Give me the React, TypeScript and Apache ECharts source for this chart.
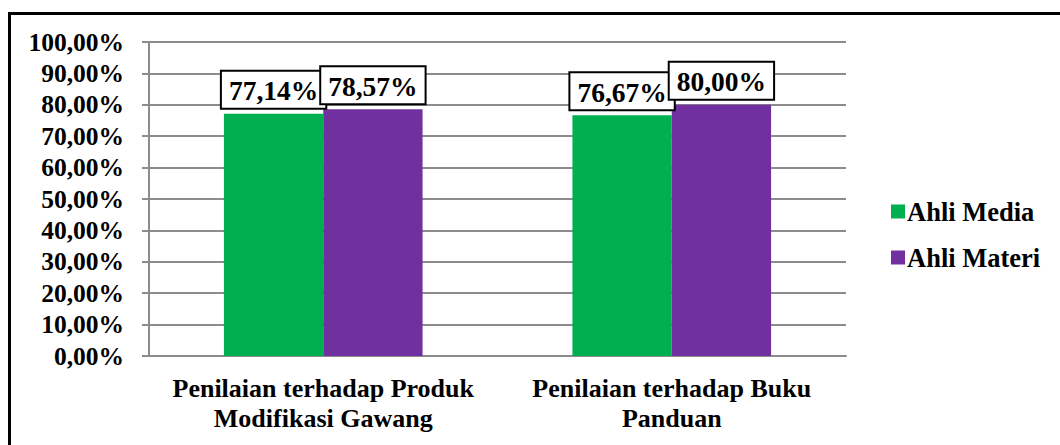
import React, { useEffect, useRef } from "react";
import * as echarts from "echarts";

const categories = ["Penilaian terhadap Produk\nModifikasi Gawang", "Penilaian terhadap Buku\nPanduan"];
const seriesNames = ["Ahli Media", "Ahli Materi"];
const ahliMedia = [77.14, 76.67];
const ahliMateri = [78.57, 80.0];
const colors = ["#00B050", "#7030A0"];

const FONT = "Liberation Serif";
const fmt = (v: number) => v.toFixed(2).replace(".", ",") + "%";

export default function App() {
  const ref = useRef<HTMLDivElement>(null);
  useEffect(() => {
    if (!ref.current) return;
    const chart = echarts.init(ref.current, null, { renderer: "svg" });
    const label = {
      show: true,
      position: "top" as const,
      distance: 6,
      formatter: (p: any) => fmt(p.value),
      fontFamily: FONT,
      fontWeight: "bold" as const,
      fontSize: 27.5,
      color: "#000",
      backgroundColor: "#fff",
      borderColor: "#000",
      borderWidth: 2,
      padding: [5, 7, 3, 7],
    };
    chart.setOption({
      animation: false,
      backgroundColor: "#fff",
      graphic: [
        {
          type: "rect",
          shape: { x: 9.5, y: 13.5, width: 1100, height: 500 },
          style: { fill: "none", stroke: "#000", lineWidth: 3 },
          silent: true,
        },
      ],
      grid: { left: 149, right: 214, top: 42, bottom: 89, containLabel: false },
      legend: {
        orient: "vertical",
        left: 886,
        top: 193,
        itemWidth: 14,
        itemHeight: 14,
        itemGap: 19,
        icon: "rect",
        textStyle: { fontFamily: FONT, fontWeight: "bold", fontSize: 26.5, color: "#000", padding: [0, 0, 0, -3] },
        data: seriesNames,
      },
      xAxis: {
        type: "category",
        data: categories,
        axisLine: { show: true, lineStyle: { color: "#8c8c8c", width: 2 } },
        axisTick: { show: false },
        axisLabel: {
          fontFamily: FONT,
          fontWeight: "bold",
          fontSize: 26,
          color: "#000",
          lineHeight: 30,
          margin: 17,
          interval: 0,
        },
      },
      yAxis: {
        type: "value",
        min: 0,
        max: 100,
        interval: 10,
        axisLine: { show: true, lineStyle: { color: "#8c8c8c", width: 2 } },
        axisTick: { show: true, length: 7, lineStyle: { color: "#8c8c8c", width: 2 } },
        splitLine: { show: true, lineStyle: { color: "#8c8c8c", width: 2 } },
        axisLabel: {
          formatter: (v: number) => fmt(v),
          fontFamily: FONT,
          fontWeight: "bold",
          fontSize: 25.5,
          color: "#000",
          margin: 25,
        },
      },
      series: [
        {
          name: seriesNames[0],
          type: "bar",
          data: ahliMedia,
          itemStyle: { color: colors[0] },
          barGap: "0%",
          barCategoryGap: "43%",
          label,
        },
        {
          name: seriesNames[1],
          type: "bar",
          data: ahliMateri,
          itemStyle: { color: colors[1] },
          barGap: "0%",
          barCategoryGap: "43%",
          label,
        },
      ],
    });
    return () => chart.dispose();
  }, []);
  return (
    <div
      ref={ref}
      style={{ position: "absolute", left: 0, top: 0, width: 1060, height: 445 }}
    />
  );
}
